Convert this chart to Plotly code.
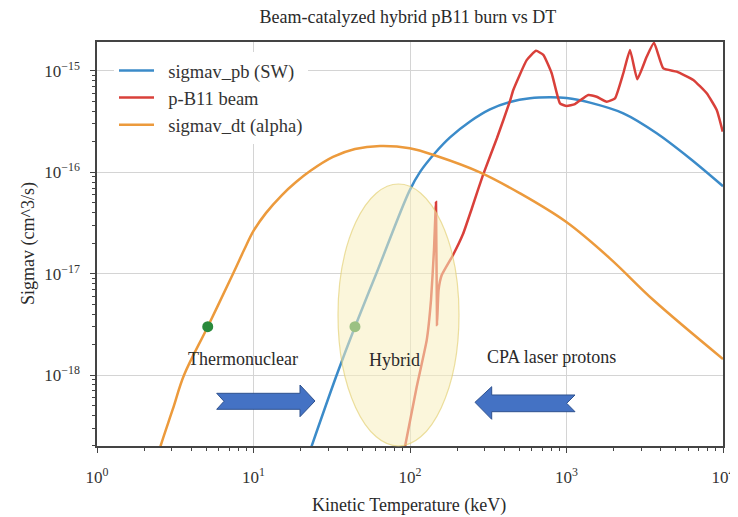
import plotly.graph_objects as go

# ---------------- data ----------------
T_pb = [23, 34, 44.5, 61.5, 99, 116, 144.5, 180.2, 242, 324.4, 435.5, 584.5, 785, 1000, 1413, 2307,
        3770, 6150, 10000]
sv_pb = [1.8e-19, 1.0e-18, 3.0e-18, 1.04e-17, 6.53e-17, 1.01e-16, 1.55e-16, 2.21e-16, 3.17e-16,
         4.17e-16, 4.94e-16, 5.38e-16, 5.5e-16, 5.41e-16, 4.87e-16, 3.82e-16, 2.43e-16, 1.37e-16, 7.3e-17]

T_beam = [92.5, 110.4, 127.9, 136.2, 142.3, 146.6, 148.8, 152.2, 159.5, 188.4, 218.1, 248.9, 292.5,
          359.6, 435.5, 457, 556.7, 638.6, 711, 804, 908, 1002, 1132, 1378, 1559, 1807, 2042, 2307,
          2546, 2834, 3252, 3623, 4155, 5060, 6460, 7870, 9120, 9960]
sv_beam = [1.9e-19, 7.66e-19, 2.21e-18, 5.49e-18, 1.71e-17, 5.09e-17, 3.11e-18, 6.9e-18, 9.7e-18,
           1.53e-17, 2.46e-17, 4.45e-17, 9.4e-17, 2.18e-16, 5.06e-16, 6.49e-16, 1.28e-15, 1.58e-15,
           1.44e-15, 9.5e-16, 4.8e-16, 4.51e-16, 4.72e-16, 5.8e-16, 5.57e-16, 4.98e-16, 5.37e-16,
           9.5e-16, 1.61e-15, 8.28e-16, 1.38e-15, 1.9e-15, 1.06e-15, 9.84e-16, 8.15e-16, 6.02e-16,
           4.12e-16, 2.52e-16]

T_dt = [2.35, 2.55, 3.05, 3.6, 5.1, 7.4, 8.7, 10.0, 12.0, 15.2, 18.7, 23.0, 32.2, 44.5, 64.3, 99.6,
        148, 280, 505, 993, 1900, 3590, 10000]
sv_dt = [1.26e-19, 2.0e-19, 4.6e-19, 1.0e-18, 3.0e-18, 1.0e-17, 1.71e-17, 2.64e-17, 3.96e-17,
         5.97e-17, 8.02e-17, 1.03e-16, 1.42e-16, 1.70e-16, 1.82e-16, 1.73e-16, 1.45e-16, 1.0e-16,
         6.2e-17, 3.25e-17, 1.41e-17, 5.5e-18, 1.44e-18]

T_points = [5.1, 44.5]
sv_points = [3.0e-18, 3.0e-18]

x_tick_vals = [1, 10, 100, 1000, 10000]
x_tick_text = ["10<sup>0</sup>", "10<sup>1</sup>", "10<sup>2</sup>", "10<sup>3</sup>", "10<sup>4</sup>"]
y_tick_vals = [1e-18, 1e-17, 1e-16, 1e-15]
y_tick_text = ["10<sup>\u221218</sup>", "10<sup>\u221217</sup>", "10<sup>\u221216</sup>", "10<sup>\u221215</sup>"]

series_names = ["sigmav_pb (SW)", "p-B11 beam", "sigmav_dt (alpha)"]
region_labels = ["Thermonuclear", "Hybrid", "CPA laser protons"]

# ---------------- styling ----------------
FONT = "Liberation Serif"
BLUE = "#3b8bc9"
RED = "#d9403a"
ORANGE = "#ec9a3c"
GREEN = "#2a8a3c"
TXT = "#2a2a2a"

# page offset of the plot div (default body margin) and plot-area placement on the page
OFF = 8
W, H = 738 - OFF, 517 - OFF
PL, PR, PT, PB = 97, 723, 42, 446
ML, MR, MT, MB = PL - OFF, W - (PR - OFF), PT - OFF, H - (PB - OFF)


def px(xp, yp):
    return (xp - PL) / (PR - PL), (PB - yp) / (PB - PT)


PAD = "\u00a0\u00a0"  # gap between legend line sample and its label

fig = go.Figure()
fig.add_trace(go.Scatter(x=T_pb, y=sv_pb, mode="lines", name=PAD + series_names[0],
                         line=dict(color=BLUE, width=2.5, shape="spline", smoothing=0.9)))
fig.add_trace(go.Scatter(x=T_beam, y=sv_beam, mode="lines", name=PAD + series_names[1],
                         line=dict(color=RED, width=2.5, shape="spline", smoothing=0.4)))
fig.add_trace(go.Scatter(x=T_dt, y=sv_dt, mode="lines", name=PAD + series_names[2],
                         line=dict(color=ORANGE, width=2.5, shape="spline", smoothing=1.0)))
fig.add_trace(go.Scatter(x=T_points, y=sv_points, mode="markers", showlegend=False,
                         marker=dict(color=GREEN, size=11)))

minor_x = [m * 10 ** e for e in range(0, 4) for m in range(2, 10)]
minor_y = [m * 10.0 ** e for e in range(-19, -14) for m in range(2, 10)]

axis_common = dict(type="log", showline=True, linecolor="#444", linewidth=1.5, mirror=True,
                   ticks="outside", ticklen=5, tickcolor="#444", showgrid=True,
                   gridcolor="#d4d4d4", gridwidth=1, zeroline=False, tickmode="array",
                   automargin=False,
                   tickfont=dict(family=FONT, size=17, color="#333"))

fig.update_xaxes(**axis_common, range=[0, 4], tickvals=x_tick_vals, ticktext=x_tick_text,
                 ticklabelstandoff=10,
                 minor=dict(tickmode="array", tickvals=minor_x, ticks="outside", ticklen=3,
                            tickcolor="#444", showgrid=False))
fig.update_yaxes(**axis_common, range=[-18.70, -14.714], tickvals=y_tick_vals, ticktext=y_tick_text,
                 ticklabelstandoff=7,
                 minor=dict(tickmode="array", tickvals=minor_y, ticks="outside", ticklen=3,
                            tickcolor="#444", showgrid=False))

shapes = []
# highlighted hybrid region (ellipse)
ex0, ey0 = px(338, 446)
ex1, ey1 = px(459, 184)
shapes.append(dict(type="circle", xref="paper", yref="paper", x0=ex0, y0=ey0, x1=ex1, y1=ey1,
                   fillcolor="rgba(248,238,190,0.55)", line=dict(color="rgba(226,206,110,0.65)", width=1.2),
                   layer="above"))


def arrow_path(points):
    pts = [px(a, b) for a, b in points]
    return "M " + " L ".join(f"{x:.5f},{y:.5f}" for x, y in pts) + " Z"


right_arrow = [(216.7, 393.3), (300, 393.3), (300, 385), (315, 401), (300, 416.7), (300, 409.3),
               (216.7, 409.3), (224, 401.3)]
left_arrow = [(475, 402.3), (491.7, 386.7), (491.7, 395), (575, 395), (566.7, 403.3), (575, 411.7),
              (491.7, 411.7), (491.7, 419.3)]
for pts in (right_arrow, left_arrow):
    shapes.append(dict(type="path", xref="paper", yref="paper", path=arrow_path(pts),
                       fillcolor="#4472c4", line=dict(color="#2f528f", width=1), layer="above"))

annotations = []
for text, (xp, yp) in zip(region_labels, [(243, 359), (394.5, 360), (551.5, 357)]):
    ax_, ay_ = px(xp, yp)
    annotations.append(dict(text=text, x=ax_, y=ay_, xref="paper", yref="paper", showarrow=False,
                            xanchor="center", yanchor="middle",
                            font=dict(family=FONT, size=18, color=TXT)))

xt = px(409, 506)
annotations.append(dict(text="Kinetic Temperature (keV)", x=xt[0], y=xt[1], xref="paper", yref="paper",
                        showarrow=False, xanchor="center", yanchor="middle",
                        font=dict(family=FONT, size=18, color=TXT)))
yt = px(28, 244)
annotations.append(dict(text="Sigmav (cm^3/s)", x=yt[0], y=yt[1], xref="paper", yref="paper",
                        showarrow=False, xanchor="center", yanchor="middle", textangle=-90,
                        font=dict(family=FONT, size=18, color=TXT)))

lg = px(114, 52)

fig.update_layout(
    width=W, height=H,
    margin=dict(l=ML, r=MR, t=MT, b=MB, autoexpand=False),
    paper_bgcolor="white", plot_bgcolor="white",
    title=dict(text="Beam-catalyzed hybrid pB11 burn vs DT", x=(408 - OFF) / W, y=1 - (17 - OFF) / H,
               xanchor="center", yanchor="middle", automargin=False,
               font=dict(family=FONT, size=18, color=TXT)),
    legend=dict(x=lg[0], y=lg[1], xanchor="left", yanchor="top", bgcolor="white",
                font=dict(family=FONT, size=18.5, color="#333"),
                itemwidth=35),
    shapes=shapes, annotations=annotations,
    showlegend=True,
)

fig.write_html("out.html")
